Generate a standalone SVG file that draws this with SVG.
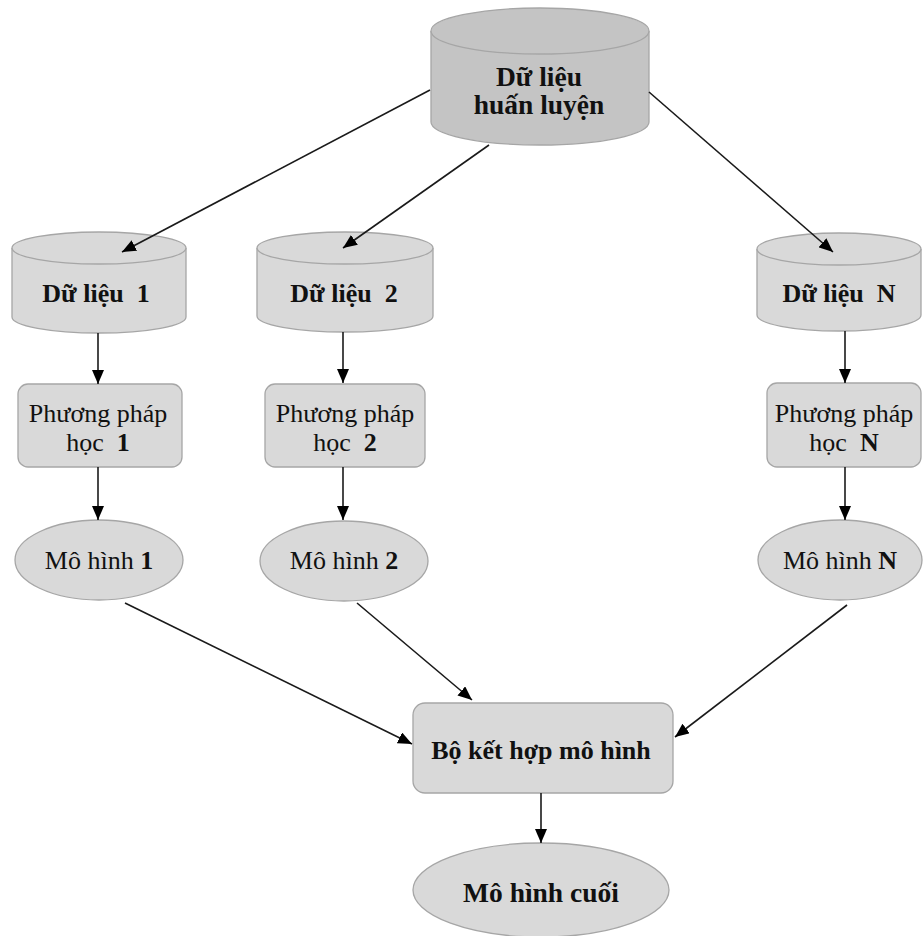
<svg xmlns="http://www.w3.org/2000/svg" width="923" height="936" viewBox="0 0 923 936">
<style>
.n{fill:#d9d9d9;stroke:#a6a6a6;stroke-width:1.3}
.top{fill:#c4c4c4;stroke:#a6a6a6;stroke-width:1.3}
.c{stroke:#1a1a1a;stroke-width:1.6;fill:none;marker-end:url(#ah)}
text{font-family:"Liberation Serif","Times New Roman",serif;font-size:26px;fill:#111;text-anchor:middle;white-space:pre}
.b{font-weight:bold}
.L{font-size:27.5px}
</style>
<defs>
<marker id="ah" markerUnits="userSpaceOnUse" markerWidth="16" markerHeight="12" refX="14" refY="6" orient="auto">
<path d="M0,0 L14,6 L0,12 Z" fill="#000"/>
</marker>
</defs>
<g id="du-lieu-huan-luyen">
<path class="top" d="M431,31 A109,23 0 0 1 649,31 V122 A109,23 0 0 1 431,122 Z"/>
<path class="top" d="M431,31 A109,23 0 0 0 649,31" fill="none"/>
<text class="b L" x="539" y="86">Dữ liệu</text>
<text class="b L" x="539" y="114">huấn luyện</text>
</g>
<g id="du-lieu-1">
<path class="n" d="M12,248 A87,16 0 0 1 186,248 V317 A87,16 0 0 1 12,317 Z"/>
<path class="n" d="M12,248 A87,16 0 0 0 186,248" fill="none"/>
<text class="b" x="96" y="302">Dữ liệu  1</text>
</g>
<g id="du-lieu-2">
<path class="n" d="M257,248 A88,16 0 0 1 433,248 V316 A88,16 0 0 1 257,316 Z"/>
<path class="n" d="M257,248 A88,16 0 0 0 433,248" fill="none"/>
<text class="b" x="344" y="302">Dữ liệu  2</text>
</g>
<g id="du-lieu-n">
<path class="n" d="M757,249 A82,16 0 0 1 921,249 V315 A82,16 0 0 1 757,315 Z"/>
<path class="n" d="M757,249 A82,16 0 0 0 921,249" fill="none"/>
<text class="b" x="839" y="302">Dữ liệu  N</text>
</g>
<g id="phuong-phap-1">
<rect class="n" x="18" y="384" width="164" height="83" rx="10"/>
<text x="98" y="422">Phương pháp</text>
<text x="98" y="451">học  <tspan class="b">1</tspan></text>
</g>
<g id="phuong-phap-2">
<rect class="n" x="265" y="384" width="160" height="83" rx="10"/>
<text x="345" y="422">Phương pháp</text>
<text x="345" y="451">học  <tspan class="b">2</tspan></text>
</g>
<g id="phuong-phap-n">
<rect class="n" x="767" y="383" width="154" height="84" rx="10"/>
<text x="844" y="422">Phương pháp</text>
<text x="844" y="451">học  <tspan class="b">N</tspan></text>
</g>
<g id="mo-hinh-1">
<ellipse class="n" cx="99" cy="560" rx="84" ry="40"/>
<text x="99" y="569">Mô hình <tspan class="b">1</tspan></text>
</g>
<g id="mo-hinh-2">
<ellipse class="n" cx="344" cy="561" rx="84" ry="40"/>
<text x="344" y="569">Mô hình <tspan class="b">2</tspan></text>
</g>
<g id="mo-hinh-n">
<ellipse class="n" cx="840" cy="560" rx="82" ry="40"/>
<text x="840" y="569">Mô hình <tspan class="b">N</tspan></text>
</g>
<g id="bo-ket-hop">
<rect class="n" x="413" y="703" width="260" height="90" rx="12"/>
<text class="b" x="541" y="759">Bộ kết hợp mô hình</text>
</g>
<g id="mo-hinh-cuoi">
<ellipse class="n" cx="541" cy="890" rx="128" ry="47"/>
<text class="b L" x="541" y="902">Mô hình cuối</text>
</g>
<g id="connectors">
<line class="c" x1="430" y1="90" x2="122" y2="252"/>
<line class="c" x1="489" y1="145" x2="343" y2="248"/>
<line class="c" x1="649" y1="92" x2="833" y2="252"/>
<line class="c" x1="98" y1="333" x2="98" y2="384"/>
<line class="c" x1="343" y1="332" x2="343" y2="383"/>
<line class="c" x1="845" y1="331" x2="845" y2="383"/>
<line class="c" x1="98" y1="467" x2="98" y2="520"/>
<line class="c" x1="343" y1="467" x2="343" y2="520"/>
<line class="c" x1="845" y1="467" x2="845" y2="520"/>
<line class="c" x1="125" y1="603" x2="412" y2="744"/>
<line class="c" x1="357" y1="603" x2="472" y2="700"/>
<line class="c" x1="847" y1="605" x2="675" y2="737"/>
<line class="c" x1="541" y1="793" x2="541" y2="843"/>
</g>
</svg>
